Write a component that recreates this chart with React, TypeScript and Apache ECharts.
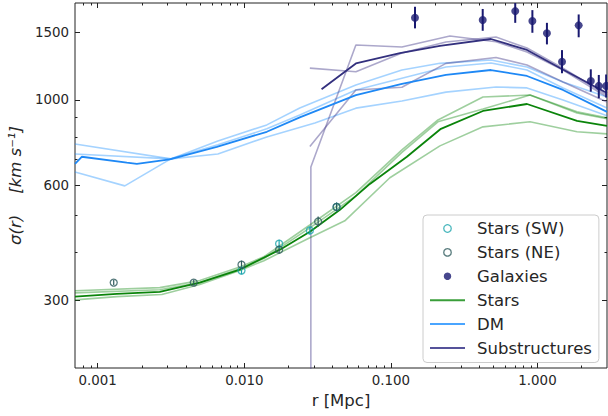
import React, { useEffect, useRef } from "react";
import * as echarts from "echarts";

// ---- axis ranges & ticks ----
const X_MIN = 0.0007;
const X_MAX = 2.98;
const Y_MIN = 200;
const Y_MAX = 1790;
const xMajorTicks = [0.001, 0.01, 0.1, 1];
const xMinorTicks = [
  0.0008, 0.0009, 0.002, 0.003, 0.004, 0.005, 0.006, 0.007, 0.008, 0.009,
  0.02, 0.03, 0.04, 0.05, 0.06, 0.07, 0.08, 0.09, 0.2, 0.3, 0.4, 0.5, 0.6,
  0.7, 0.8, 0.9, 2,
];
const yMajorTicks = [300, 600, 1000, 1500];
const yMinorTicks = [400, 500, 700, 800, 900];

// ---- Stars profiles [r (Mpc), sigma (km/s)] ----
const starsMain = [
  [0.0007, 307], [0.00135, 312], [0.00265, 316], [0.00497, 334], [0.00932, 361],
  [0.0175, 407], [0.028, 453], [0.0449, 517], [0.0719, 604], [0.1286, 711],
  [0.2194, 841], [0.4246, 936], [0.848, 976], [1.861, 882], [2.98, 856],
];
const starsLightA = [
  [0.0007, 318], [0.00265, 324], [0.00497, 338], [0.00932, 367], [0.0136, 390],
  [0.028, 472], [0.0577, 573], [0.1189, 741], [0.2094, 887], [0.4246, 1018],
  [0.889, 1030], [1.861, 931], [2.98, 898],
];
const starsLightB = [
  [0.0007, 314], [0.00265, 320], [0.00497, 334], [0.00932, 363], [0.0136, 386],
  [0.028, 464], [0.0577, 562], [0.1189, 730], [0.2094, 877], [0.4246, 947],
  [0.889, 1030], [1.861, 925], [2.98, 893],
];
const starsLightC = [
  [0.0007, 301], [0.00135, 307], [0.00274, 311], [0.00497, 330], [0.00932, 359],
  [0.0136, 381], [0.028, 437], [0.0485, 484], [0.0984, 627], [0.216, 759],
  [0.4246, 851], [0.889, 877], [1.861, 826], [2.98, 816],
];

// ---- DM profiles ----
const dmMain = [
  [0.0007, 681], [0.000778, 711], [0.00158, 686], [0.00185, 681], [0.0031, 700],
  [0.00649, 755], [0.01424, 826], [0.0239, 901], [0.0577, 1030], [0.1189, 1101],
  [0.2374, 1162], [0.4816, 1197], [0.848, 1155], [1.493, 1062], [2.98, 931],
];
const dmLightA = [
  [0.0007, 768], [0.00315, 702], [0.0066, 782], [0.01424, 861], [0.0239, 953],
  [0.0577, 1094], [0.1189, 1197], [0.216, 1246], [0.4816, 1271], [0.848, 1219],
  [1.493, 1114], [2.98, 1018],
];
const dmLightB = [
  [0.0007, 723], [0.00315, 702], [0.0066, 764], [0.01424, 841], [0.0239, 914],
  [0.0577, 1062], [0.2374, 1219], [0.4816, 1249], [0.848, 1197], [1.493, 1075],
  [2.98, 953],
];
const dmLightC = [
  [0.0007, 649], [0.00153, 597], [0.00315, 702], [0.0066, 723], [0.01424, 801],
  [0.0303, 871], [0.0577, 952], [0.1189, 994], [0.2374, 1048], [0.521, 1081],
  [0.848, 1075], [1.493, 1000], [2.98, 909],
];

// ---- Substructure profiles ----
const subMain = [
  [0.03365, 1066], [0.0577, 1245], [0.1152, 1325], [0.216, 1383], [0.4816, 1442],
  [0.848, 1350], [1.4245, 1211], [2.282, 1101], [2.98, 1043],
];
const subLightA = [
  [0.02844, 50], [0.02845, 669], [0.0577, 1391], [0.1189, 1374], [0.2527, 1468],
  [0.521, 1418], [0.848, 1334], [1.493, 1197], [2.98, 1018],
];
const subLightB = [
  [0.028, 1211], [0.0577, 1185], [0.1189, 1325], [0.2374, 1416], [0.521, 1459],
  [0.848, 1366], [1.493, 1211], [2.98, 1030],
];
const subLightC = [
  [0.028, 756], [0.0577, 1062], [0.1189, 1079], [0.2374, 1246], [0.521, 1291],
  [0.848, 1233], [1.493, 1114], [2.98, 988],
];

// ---- observations: [r, sigma, lower, upper] ----
const galaxies = [
  [0.146, 1638, 1537, 1750], [0.423, 1616, 1515, 1727], [0.705, 1705, 1589, 1822],
  [0.923, 1606, 1497, 1715], [1.16, 1492, 1396, 1589], [1.47, 1258, 1174, 1349],
  [1.91, 1565, 1457, 1671], [2.31, 1121, 1051, 1202], [2.62, 1088, 1010, 1162],
  [2.94, 1088, 1015, 1165],
];
// [r, sigma, error]
const starsSW = [[0.00957, 359, 8], [0.01728, 422, 10], [0.028, 457, 11], [0.0426, 526, 14]];
const starsNE = [
  [0.001286, 334, 5], [0.00452, 334, 6], [0.00957, 372, 9], [0.01728, 407, 10],
  [0.0319, 482, 15], [0.0426, 526, 14],
];

const FONT = "DejaVu Sans";
const TXT = "#262626";

const C_STARS = "#0a840a";
const C_STARS_L = "rgba(0,128,0,0.38)";
const C_DM = "#1e88f5";
const C_DM_L = "rgba(30,144,255,0.4)";
const C_SUB = "#33307e";
const C_SUB_L = "rgba(72,61,139,0.45)";
const C_SW = "#1ca5ad";
const C_NE = "#2e5a5c";
const C_GAL = "#191970";

function lineSeries(name: string, data: number[][], color: string, width: number, z: number) {
  return {
    type: "line",
    name,
    data,
    showSymbol: false,
    symbol: "none",
    lineStyle: { color, width },
    itemStyle: { color },
    z,
    silent: true,
    clip: true,
  };
}

function errSeries(name: string, data: number[][], color: string, width: number, z: number) {
  return {
    type: "custom",
    name,
    data,
    clip: true,
    silent: true,
    z,
    encode: { x: 0, y: [1, 2] },
    renderItem: (_p: any, api: any) => {
      const x = api.value(0);
      const a = api.coord([x, api.value(1)]);
      const b = api.coord([x, api.value(2)]);
      return {
        type: "line",
        shape: { x1: a[0], y1: a[1], x2: b[0], y2: b[1] },
        style: { stroke: color, lineWidth: width },
      };
    },
  };
}

function tickAxis(kind: "x" | "y", position: string, values: number[], len: number, labels: boolean, extra: any = {}) {
  const isX = kind === "x";
  return {
    type: "log",
    logBase: 10,
    position,
    min: isX ? X_MIN : Y_MIN,
    max: isX ? X_MAX : Y_MAX,
    axisLine: { show: false },
    splitLine: { show: false },
    axisTick: {
      show: true,
      inside: true,
      length: len,
      customValues: values,
      lineStyle: { color: "#222", width: 1 },
    },
    axisLabel: labels
      ? {
          show: true,
          customValues: values,
          color: TXT,
          fontFamily: FONT,
          fontSize: 13.4,
          margin: 6,
          formatter: (v: number) => (isX ? Number(v).toFixed(3) : String(Math.round(v))),
        }
      : { show: false },
    ...extra,
  };
}

const hiddenSymbol = { color: "rgba(0,0,0,0)", borderWidth: 0, opacity: 0 };

export default function App() {
  const ref = useRef<HTMLDivElement>(null);
  useEffect(() => {
    if (!ref.current) return;
    const chart = echarts.init(ref.current, undefined, { renderer: "svg" });
    const option: any = {
      animation: false,
      backgroundColor: "#fff",
      grid: {
        left: 75,
        right: 1,
        top: 3,
        bottom: 48,
        containLabel: false,
        outerBoundsMode: "none",
        show: true,
        borderColor: "#222",
        borderWidth: 1,
        backgroundColor: "transparent",
      },
      xAxis: [
        tickAxis("x", "bottom", xMajorTicks, 5, true, {
          name: "r [Mpc]",
          nameLocation: "middle",
          nameGap: 20,
          nameTextStyle: { color: TXT, fontFamily: FONT, fontSize: 16.5, verticalAlign: "top" },
        }),
        tickAxis("x", "bottom", xMinorTicks, 2.5, false),
        tickAxis("x", "top", xMajorTicks, 5, false),
        tickAxis("x", "top", xMinorTicks, 2.5, false),
      ],
      yAxis: [
        tickAxis("y", "left", yMajorTicks, 5, true, {
          name: "σ(r)    [km s⁻¹]",
          nameLocation: "middle",
          nameGap: 50,
          nameTextStyle: {
            color: TXT,
            fontFamily: FONT,
            fontSize: 16.5,
            fontStyle: "italic",
          },
        }),
        tickAxis("y", "left", yMinorTicks, 2.5, false),
        tickAxis("y", "right", yMajorTicks, 5, false),
        tickAxis("y", "right", yMinorTicks, 2.5, false),
      ],
      legend: {
        show: true,
        orient: "vertical",
        left: 423,
        top: 215,
        padding: [5, 7, 6, 6],
        itemGap: 6.9,
        itemWidth: 35,
        itemHeight: 7.5,
        backgroundColor: "rgba(255,255,255,0.85)",
        borderColor: "#cccccc",
        borderWidth: 1,
        borderRadius: 4,
        selectedMode: false,
        textStyle: { color: TXT, fontFamily: FONT, fontSize: 16.5, padding: [0, 0, 0, 7] },
        data: [
          { name: "Stars (SW)", icon: "circle", itemStyle: { color: "rgba(0,0,0,0)", borderColor: C_SW, borderWidth: 1.3 } },
          { name: "Stars (NE)", icon: "circle", itemStyle: { color: "rgba(0,0,0,0)", borderColor: C_NE, borderWidth: 1.3 } },
          { name: "Galaxies", icon: "circle", itemStyle: { color: C_GAL } },
          { name: "Stars", lineStyle: { color: "#3a9e3a", width: 2 }, itemStyle: hiddenSymbol },
          { name: "DM", lineStyle: { color: "#4aa5ff", width: 2 }, itemStyle: hiddenSymbol },
          { name: "Substructures", lineStyle: { color: "#55529a", width: 2 }, itemStyle: hiddenSymbol },
        ],
      },
      series: [
        lineSeries("dmA", dmLightA, C_DM_L, 1.6, 1),
        lineSeries("dmB", dmLightB, C_DM_L, 1.6, 1),
        lineSeries("dmC", dmLightC, C_DM_L, 1.6, 1),
        lineSeries("subA", subLightA, C_SUB_L, 1.6, 1),
        lineSeries("subB", subLightB, C_SUB_L, 1.6, 1),
        lineSeries("subC", subLightC, C_SUB_L, 1.6, 1),
        lineSeries("starsA", starsLightA, C_STARS_L, 1.6, 1),
        lineSeries("starsB", starsLightB, C_STARS_L, 1.6, 1),
        lineSeries("starsC", starsLightC, C_STARS_L, 1.6, 1),
        lineSeries("Stars", starsMain, C_STARS, 1.8, 2),
        lineSeries("DM", dmMain, C_DM, 1.8, 2),
        lineSeries("Substructures", subMain, C_SUB, 1.8, 2),
        errSeries("swErr", starsSW.map((d) => [d[0], d[1] - d[2], d[1] + d[2]]), C_SW, 1.2, 3),
        errSeries("neErr", starsNE.map((d) => [d[0], d[1] - d[2], d[1] + d[2]]), C_NE, 1.2, 3),
        {
          type: "scatter",
          name: "Stars (SW)",
          data: starsSW.map((d) => [d[0], d[1]]),
          symbol: "circle",
          symbolSize: 7,
          itemStyle: { color: "rgba(0,0,0,0)", borderColor: C_SW, borderWidth: 1.3 },
          z: 4,
          silent: true,
        },
        {
          type: "scatter",
          name: "Stars (NE)",
          data: starsNE.map((d) => [d[0], d[1]]),
          symbol: "circle",
          symbolSize: 7,
          itemStyle: { color: "rgba(0,0,0,0)", borderColor: C_NE, borderWidth: 1.3 },
          z: 4,
          silent: true,
        },
        errSeries("galErr", galaxies.map((d) => [d[0], d[2], d[3]]), C_GAL, 2, 5),
        {
          type: "scatter",
          name: "Galaxies",
          data: galaxies.map((d) => [d[0], d[1]]),
          symbol: "circle",
          symbolSize: 8,
          itemStyle: { color: C_GAL },
          z: 6,
          silent: true,
        },
      ],
    };
    chart.setOption(option);
    return () => chart.dispose();
  }, []);
  return (
    <div
      ref={ref}
      style={{ position: "fixed", left: 0, top: 0, width: 608, height: 416, background: "#fff" }}
    />
  );
}
